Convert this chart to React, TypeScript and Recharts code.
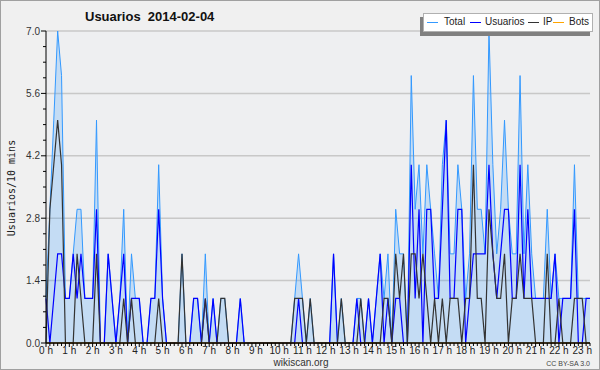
import React from "react";
import { ComposedChart, Area, Line, XAxis, YAxis, CartesianGrid, ReferenceLine } from "recharts";

// one point every 10 minutes, starting at 0 h
const hourLabels = [
  "0 h", "1 h", "2 h", "3 h", "4 h", "5 h", "6 h", "7 h", "8 h", "9 h", "10 h", "11 h",
  "12 h", "13 h", "14 h", "15 h", "16 h", "17 h", "18 h", "19 h", "20 h", "21 h", "22 h", "23 h",
];

const total = [
  1, 3, 5, 7, 6, 1, 1, 2, 3, 3, 1, 1,
  1, 5, 0, 0, 2, 1, 0, 1, 3, 0, 2, 1,
  1, 0, 0, 1, 1, 4, 1, 0, 0, 0, 0, 2,
  0, 0, 1, 1, 0, 2, 0, 1, 0, 1, 1, 0,
  0, 0, 1, 0, 0, 0, 0, 0, 0, 0, 0, 0,
  0, 0, 0, 0, 1, 2, 1, 0, 1, 0, 0, 0,
  0, 0, 2, 0, 1, 0, 0, 0, 1, 1, 0, 1,
  0, 1, 2, 1, 2, 0, 3, 2, 2, 0, 6, 3,
  4, 2, 4, 3, 2, 1, 4, 5, 2, 2, 4, 3,
  1, 2, 6, 3, 3, 2, 7, 4, 2, 3, 5, 3,
  2, 2, 6, 2, 4, 2, 1, 1, 1, 3, 1, 2,
  1, 1, 1, 1, 4, 1, 1, 1, 1,
];

const usuarios = [
  1, 0, 1, 2, 2, 1, 1, 2, 1, 2, 1, 1,
  1, 3, 0, 0, 2, 1, 0, 1, 2, 0, 1, 1,
  1, 0, 0, 1, 1, 3, 1, 0, 0, 0, 0, 0,
  0, 0, 1, 1, 0, 1, 0, 1, 0, 0, 0, 0,
  0, 0, 1, 0, 0, 0, 0, 0, 0, 0, 0, 0,
  0, 0, 0, 0, 0, 1, 0, 0, 0, 0, 0, 0,
  0, 0, 2, 0, 0, 0, 0, 0, 1, 0, 0, 1,
  0, 1, 2, 0, 1, 0, 1, 1, 0, 0, 4, 1,
  3, 0, 3, 3, 1, 1, 3, 5, 1, 1, 3, 3,
  0, 1, 2, 2, 2, 2, 4, 2, 1, 2, 3, 3,
  1, 1, 4, 1, 3, 1, 1, 1, 1, 1, 1, 2,
  0, 1, 1, 1, 3, 0, 0, 1, 1,
];

const ip = [
  0, 3, 4, 5, 4, 0, 0, 0, 2, 1, 0, 0,
  0, 2, 0, 0, 0, 0, 0, 0, 1, 0, 1, 0,
  0, 0, 0, 0, 0, 1, 0, 0, 0, 0, 0, 2,
  0, 0, 0, 0, 0, 1, 0, 0, 0, 1, 1, 0,
  0, 0, 0, 0, 0, 0, 0, 0, 0, 0, 0, 0,
  0, 0, 0, 0, 1, 1, 1, 0, 1, 0, 0, 0,
  0, 0, 0, 0, 1, 0, 0, 0, 0, 1, 0, 0,
  0, 0, 0, 1, 1, 0, 2, 1, 2, 0, 2, 2,
  1, 2, 1, 0, 1, 0, 1, 0, 1, 1, 1, 0,
  1, 1, 4, 1, 1, 0, 3, 2, 1, 1, 2, 0,
  1, 1, 2, 1, 1, 1, 0, 0, 0, 2, 0, 0,
  1, 0, 0, 0, 1, 1, 1, 0, 0,
];

const bots = [
  0, 0, 0, 0, 0, 0, 0, 0, 0, 0, 0, 0,
  0, 0, 0, 0, 0, 0, 0, 0, 0, 0, 0, 0,
  0, 0, 0, 0, 0, 0, 0, 0, 0, 0, 0, 0,
  0, 0, 0, 0, 0, 0, 0, 0, 0, 0, 0, 0,
  0, 0, 0, 0, 0, 0, 0, 0, 0, 0, 0, 0,
  0, 0, 0, 0, 0, 0, 0, 0, 0, 0, 0, 0,
  0, 0, 0, 0, 0, 0, 0, 0, 0, 0, 0, 0,
  0, 0, 0, 0, 0, 0, 0, 0, 0, 0, 0, 0,
  0, 0, 0, 0, 0, 0, 0, 0, 0, 0, 0, 0,
  0, 0, 0, 0, 0, 0, 0, 0, 0, 0, 0, 0,
  0, 0, 0, 0, 0, 0, 0, 0, 0, 0, 0, 0,
  0, 0, 0, 0, 0, 0, 0, 0, 0,
];

const yTicks = [0, 0.35, 0.7, 1.05, 1.4, 1.75, 2.1, 2.45, 2.8, 3.15, 3.5, 3.85, 4.2, 4.55, 4.9, 5.25, 5.6, 5.95, 6.3, 6.65, 7.0];
const yLabels = [0, 1.4, 2.8, 4.2, 5.6, 7.0];

const data = total.map((t, i) => ({
  idx: i,
  total: t,
  usuarios: usuarios[i],
  ip: ip[i],
  bots: bots[i],
}));
const xTicks = data.map((d) => d.idx);

const FONT = "'Liberation Sans', Arial, sans-serif";

function XTick(props: any) {
  const { x, y, payload } = props;
  const idx = payload.value as number;
  const isHour = idx % 6 === 0;
  return (
    <g>
      <line x1={x} x2={x} y1={y} y2={y + (isHour ? 4 : 3)} stroke="#000" strokeWidth={1} />
      {isHour && (
        <text x={x} y={y + 10.5} textAnchor="middle" fontSize={10} fontFamily={FONT} fill="#222">
          {hourLabels[idx / 6]}
        </text>
      )}
    </g>
  );
}

function YTick(props: any) {
  const { x, y, payload } = props;
  const v = payload.value as number;
  const major = yLabels.some((l) => Math.abs(l - v) < 1e-6);
  return (
    <g>
      <line x1={x - (major ? 5 : 3)} x2={x} y1={y} y2={y} stroke="#000" strokeWidth={1} />
      {major && (
        <text x={x - 6} y={y + 3.5} textAnchor="end" fontSize={10} fontFamily={FONT} fill="#333">
          {v.toFixed(1)}
        </text>
      )}
    </g>
  );
}

const legendItems = [
  { name: "Total", color: "#3399ff", sx: 426, tx: 443 },
  { name: "Usuarios", color: "#0000ff", sx: 469, tx: 484 },
  { name: "IP", color: "#333333", sx: 527, tx: 542 },
  { name: "Bots", color: "#ffa500", sx: 552, tx: 568 },
];

export default function App() {
  return (
    <div
      style={{
        position: "absolute",
        left: 0,
        top: 0,
        width: 600,
        height: 370,
        boxSizing: "border-box",
        border: "1px solid #a0a0a0",
        background: "#f0f0f0",
        fontFamily: FONT,
      }}
    >
      <div style={{ position: "absolute", left: -1, top: -1 }}>
        <ComposedChart width={600} height={370} data={data} margin={{ top: 31, right: 10, bottom: 0, left: 0 }}>
          <CartesianGrid
            horizontal={true}
            vertical={false}
            horizontalValues={[1.4, 2.8, 4.2, 5.6, 7.0]}
            stroke="#c8c8c8"
            strokeWidth={1.5}
            fill="#eeeff1"
          />
          <XAxis
            dataKey="idx"
            type="number"
            domain={[0, 140]}
            ticks={xTicks}
            interval={0}
            height={27}
            tickSize={0}
            tickMargin={0}
            tick={<XTick />}
            axisLine={{ stroke: "#000" }}
            tickLine={false}
          />
          <YAxis
            type="number"
            domain={[0, 7]}
            ticks={yTicks}
            interval={0}
            width={46}
            tickSize={0}
            tickMargin={0}
            tick={<YTick />}
            axisLine={{ stroke: "#000" }}
            tickLine={false}
          />
          <Area
            type="linear"
            dataKey="total"
            stroke="#3399ff"
            strokeWidth={1}
            fill="#3399ff"
            fillOpacity={0.22}
            dot={false}
            isAnimationActive={false}
          />
          <Line type="linear" dataKey="usuarios" stroke="#0000ff" strokeWidth={1.2} dot={false} isAnimationActive={false} />
          <Line type="linear" dataKey="ip" stroke="#333333" strokeWidth={1.2} dot={false} isAnimationActive={false} />
          <Line type="linear" dataKey="bots" stroke="#ffa500" strokeWidth={1} dot={false} isAnimationActive={false} />
          <ReferenceLine y={0} stroke="#000" strokeWidth={1} />
        </ComposedChart>
      </div>

      {/* title */}
      <div
        style={{
          position: "absolute",
          left: 84,
          top: 8,
          fontSize: 13,
          fontWeight: "bold",
          fontFamily: FONT,
          whiteSpace: "pre",
          color: "#111",
          lineHeight: "15px",
        }}
      >
        {"Usuarios  2014-02-04"}
      </div>

      {/* legend: shadow, box, items */}
      <div style={{ position: "absolute", left: 419, top: 16, width: 170, height: 19, background: "#808080" }} />
      <div
        style={{
          position: "absolute",
          left: 422,
          top: 12,
          width: 170,
          height: 19,
          boxSizing: "border-box",
          background: "#fff",
          border: "1px solid #b0b0b0",
        }}
      />
      {legendItems.map((it) => (
        <React.Fragment key={it.name}>
          <div style={{ position: "absolute", left: it.sx, top: 21, width: 11, height: 1, background: it.color }} />
          <div style={{ position: "absolute", left: it.tx, top: 15, fontSize: 10, lineHeight: "12px", color: "#222", whiteSpace: "nowrap" }}>
            {it.name}
          </div>
        </React.Fragment>
      ))}

      {/* y axis title */}
      <div
        style={{
          position: "absolute",
          left: 10,
          top: 187,
          transform: "translate(-50%, -50%) rotate(-90deg)",
          fontSize: 10,
          fontFamily: "'DejaVu Sans Mono', monospace",
          whiteSpace: "nowrap",
          color: "#222",
        }}
      >
        Usuarios/10 mins
      </div>

      <div style={{ position: "absolute", left: 0, width: 600, top: 356, textAlign: "center", fontSize: 10, lineHeight: "12px", color: "#333" }}>
        wikiscan.org
      </div>
      <div style={{ position: "absolute", right: 9, top: 358, fontSize: 7, lineHeight: "9px", color: "#444" }}>CC BY-SA 3.0</div>
    </div>
  );
}
